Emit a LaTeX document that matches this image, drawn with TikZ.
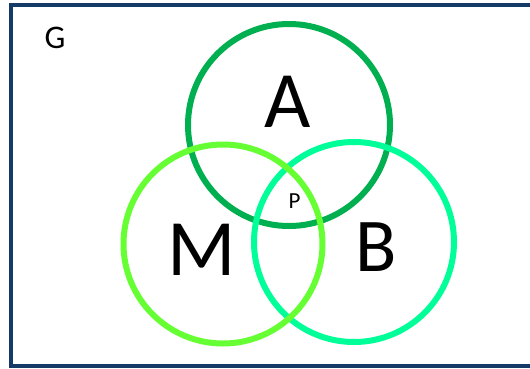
\documentclass[tikz,border=0pt]{standalone}
\usepackage{fontspec}
\setmainfont{Carlito}
\definecolor{frameblue}{RGB}{22,58,104}
\definecolor{cA}{RGB}{0,176,80}
\definecolor{cM}{RGB}{102,255,51}
\definecolor{cB}{RGB}{0,255,153}
\begin{document}
\begin{tikzpicture}[x=1pt,y=-1pt,
  ring/.style={line width=6pt},
  lbl/.style={anchor=base,inner sep=0pt,text=black}]
\useasboundingbox (0,0) rectangle (530,368);
\fill[white] (0,0) rectangle (530,368);
\draw[frameblue,line width=4pt] (535,5) -- (11,5) -- (11,366) -- (535,366);
\draw[ring,cA] (289,125) circle (101);
\draw[ring,cB] (354,242) circle (100);
\draw[ring,cM] (223,244) circle (99.5);
\node[lbl,font=\fontsize{80}{80}\selectfont] (a) at (288,127.5) {A};
\node[lbl,font=\fontsize{80}{80}\selectfont] (m) at (202,275) {M};
\node[lbl,font=\fontsize{76}{76}\selectfont] (b) at (376,271.5) {B};
\node[lbl,font=\fontsize{23}{23}\selectfont] (p) at (294.5,208) {P};
\node[lbl,font=\fontsize{33}{33}\selectfont] (g) at (55,48.5) {G};
\end{tikzpicture}
\end{document}
